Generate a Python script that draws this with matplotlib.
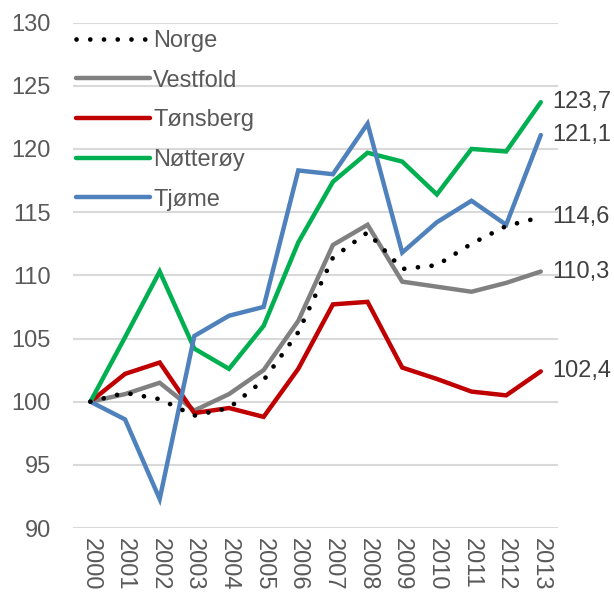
import matplotlib.pyplot as plt

plt.rcParams['font.family'] = ['Liberation Sans', 'DejaVu Sans']

years = [str(y) for y in range(2000, 2014)]

norge = [100, 100.7, 100.2, 98.9, 99.5, 101.7, 105.5, 111.4, 113.4, 110.5, 110.8, 112.5, 113.9, 114.6]
vestfold = [100, 100.6, 101.5, 99.3, 100.6, 102.5, 106.4, 112.4, 114.0, 109.5, 109.1, 108.7, 109.4, 110.3]
tonsberg = [100, 102.2, 103.1, 99.1, 99.5, 98.8, 102.6, 107.7, 107.9, 102.7, 101.8, 100.8, 100.5, 102.4]
notteroy = [100, 105.1, 110.3, 104.2, 102.6, 106.0, 112.6, 117.4, 119.7, 119.0, 116.4, 120.0, 119.8, 123.7]
tjome = [100, 98.6, 92.3, 105.2, 106.8, 107.5, 118.3, 118.0, 122.0, 111.8, 114.2, 115.9, 114.0, 121.1]

names = ["Norge", "Vestfold", "Tønsberg", "Nøtterøy", "Tjøme"]
series = [norge, vestfold, tonsberg, notteroy, tjome]
colors = ["black", "#808080", "#C00000", "#00B050", "#4F81BD"]

fig = plt.figure(figsize=(6.14, 5.94), dpi=100)
ax = fig.add_axes([0.119, 0.111, 0.79, 0.851])

x = range(len(years))
for navn, verdier, farge in zip(names, series, colors):
    if navn == "Norge":
        ax.plot(x, verdier, color=farge, lw=3.4, linestyle=(0, (0.01, 2.9)),
                dash_capstyle='round', label=navn, zorder=4)
    else:
        ax.plot(x, verdier, color=farge, lw=3.2, label=navn,
                solid_capstyle='round', solid_joinstyle='miter', zorder=3)

# verdier på slutten av linjene
for verdier in series:
    ax.annotate(f"{verdier[-1]:.1f}".replace(".", ","), (len(years) - 1, verdier[-1]),
                xytext=(8, 0), textcoords='offset points', va='center', ha='left',
                fontsize=17, color='#404040', annotation_clip=False)

ax.set_xlim(-0.5, len(years) - 0.5)
ax.set_ylim(90, 130)
ax.set_yticks(range(90, 131, 5))
ax.set_xticks(list(x))
ax.set_xticklabels(years, rotation=270, fontsize=17, color='#595959')
ax.tick_params(axis='y', labelsize=17, labelcolor='#595959', length=0, pad=16)
ax.tick_params(axis='x', length=0, pad=7)
ax.grid(axis='y', color='#D9D9D9', lw=1.5)
ax.set_axisbelow(True)
for s in ax.spines.values():
    s.set_visible(False)

leg = ax.legend(loc='upper left', bbox_to_anchor=(-0.003, 0.995), frameon=False,
                fontsize=17, handlelength=3.1, handletextpad=0.15, labelspacing=0.75,
                borderaxespad=0.1, borderpad=0.1)
for t in leg.get_texts():
    t.set_color('#595959')

fig.savefig("out.png", dpi=100)
